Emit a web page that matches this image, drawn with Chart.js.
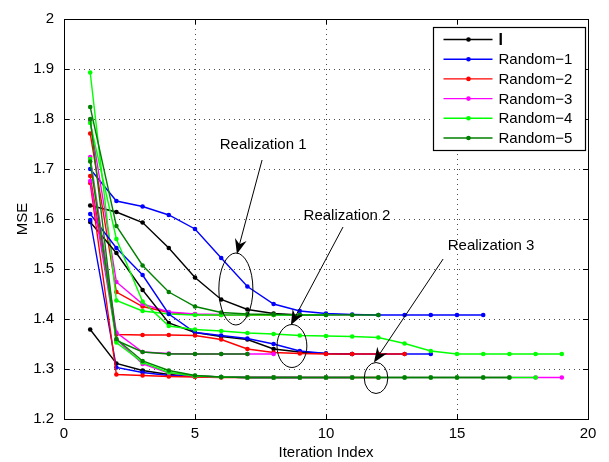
<!DOCTYPE html>
<html>
<head>
<meta charset="utf-8">
<script src="https://cdn.jsdelivr.net/npm/chart.js@4.4.0/dist/chart.umd.min.js"></script>
<style>
  html, body { margin: 0; padding: 0; background: #fff; }
  .graph { width: 609px; height: 462px; }
</style>
</head>
<body>
<div class="graph"><canvas id="myChart" width="609" height="462"></canvas></div>
<script>
// axis ticks
const xTicks = [0, 5, 10, 15, 20];
const xTickLabels = ['0', '5', '10', '15', '20'];
const yTicks = [1.2, 1.3, 1.4, 1.5, 1.6, 1.7, 1.8, 1.9, 2];
const yTickLabels = ['1.2', '1.3', '1.4', '1.5', '1.6', '1.7', '1.8', '1.9', '2'];

const seriesNames = ['I', 'Random\u22121', 'Random\u22122', 'Random\u22123', 'Random\u22124', 'Random\u22125'];
const seriesColors = ['#000000', '#0000ff', '#ff0000', '#ff00ff', '#00ff00', '#008000'];

// MSE per iteration (iteration index = position + 1)
// realization 1
const r1I  = [1.627, 1.614, 1.593, 1.542, 1.483, 1.439, 1.419, 1.411, 1.408];
const r1R1 = [1.700, 1.636, 1.625, 1.608, 1.580, 1.522, 1.465, 1.430, 1.416, 1.411, 1.409, 1.408, 1.408, 1.408, 1.408, 1.408];
const r1R2 = [1.771, 1.454, 1.425, 1.413, 1.409, 1.408, 1.408, 1.408];
const r1R3 = [1.797, 1.474, 1.430, 1.414, 1.410, 1.409, 1.408];
const r1R4 = [1.893, 1.437, 1.416, 1.410, 1.408, 1.408, 1.408, 1.408, 1.408, 1.408];
const r1R5 = [1.824, 1.586, 1.507, 1.454, 1.425, 1.413, 1.410, 1.409, 1.408, 1.408, 1.408, 1.408];
// realization 2
const r2I  = [1.594, 1.532, 1.458, 1.392, 1.373, 1.365, 1.359, 1.340, 1.334, 1.331, 1.330];
const r2R1 = [1.610, 1.542, 1.488, 1.410, 1.373, 1.367, 1.361, 1.350, 1.336, 1.331, 1.330, 1.330, 1.330, 1.330];
const r2R2 = [1.686, 1.369, 1.368, 1.368, 1.367, 1.359, 1.340, 1.333, 1.331, 1.330, 1.330, 1.330, 1.330];
const r2R3 = [1.724, 1.373, 1.334, 1.331, 1.330, 1.330, 1.330, 1.330];
const r2R4 = [1.792, 1.560, 1.435, 1.386, 1.379, 1.376, 1.372, 1.370, 1.367, 1.366, 1.365, 1.363, 1.351, 1.336, 1.330, 1.330, 1.330, 1.330, 1.330];
const r2R5 = [1.800, 1.357, 1.334, 1.330, 1.330, 1.330, 1.330];
// realization 3
const r3I  = [1.379, 1.311, 1.297, 1.289, 1.286, 1.284, 1.283, 1.283, 1.283];
const r3R1 = [1.598, 1.303, 1.293, 1.287, 1.285, 1.284, 1.283, 1.283, 1.283, 1.283, 1.283];
const r3R2 = [1.672, 1.289, 1.287, 1.285, 1.284, 1.283, 1.283, 1.283, 1.283, 1.283, 1.283, 1.283];
const r3R3 = [1.676, 1.359, 1.310, 1.292, 1.286, 1.284, 1.283, 1.283, 1.283, 1.283, 1.283, 1.283, 1.283, 1.283, 1.283, 1.283, 1.283, 1.283, 1.283];
const r3R4 = [1.720, 1.353, 1.313, 1.293, 1.286, 1.284, 1.283, 1.283, 1.283, 1.283, 1.283, 1.283, 1.283, 1.283, 1.283, 1.283, 1.283, 1.283];
const r3R5 = [1.715, 1.360, 1.316, 1.297, 1.287, 1.284, 1.283, 1.283, 1.283, 1.283, 1.283, 1.283, 1.283, 1.283, 1.283, 1.283, 1.283];

const realizations = [
  [r1I, r1R1, r1R2, r1R3, r1R4, r1R5],
  [r2I, r2R1, r2R2, r2R3, r2R4, r2R5],
  [r3I, r3R1, r3R2, r3R3, r3R4, r3R5],
];

// annotations in data units: label, arrow start/tip, ellipse centre and radii
const noteLabels = ['Realization 1', 'Realization 2', 'Realization 3'];
const noteText   = [[7.60, 1.748], [10.80, 1.606], [16.30, 1.546]];
const noteFrom   = [[7.56, 1.718], [10.65, 1.584], [14.47, 1.520]];
const noteTip    = [[6.60, 1.530], [8.66, 1.388], [11.83, 1.313]];
const noteCentre = [[6.56, 1.460], [8.70, 1.346], [11.91, 1.282]];
const noteRadii  = [[0.65, 0.072], [0.57, 0.043], [0.45, 0.031]];

const FONT = '"Liberation Sans", Arial, sans-serif';

const datasets = [];
realizations.forEach((group, r) => {
  group.forEach((vals, s) => {
    datasets.push({
      label: seriesNames[s],
      data: vals.map((v, i) => ({ x: i + 1, y: v })),
      borderColor: seriesColors[s],
      backgroundColor: seriesColors[s],
      borderWidth: 1.4,
      pointRadius: 2.3,
      pointBorderWidth: 0,
      pointHoverRadius: 0,
      tension: 0,
      fill: false,
      order: -(r * 6 + s), // later series drawn on top, like matlab
    });
  });
});

const matlabAxes = {
  id: 'matlabAxes',
  beforeDatasetsDraw(chart) {
    const { ctx, chartArea: a, scales: { x, y } } = chart;
    ctx.save();
    ctx.strokeStyle = 'rgba(0,0,0,0.7)';
    ctx.lineWidth = 1;
    ctx.setLineDash([1, 4]);
    xTicks.forEach(v => {
      const px = Math.round(x.getPixelForValue(v)) + 0.5;
      if (px <= a.left + 1 || px >= a.right - 1) return;
      ctx.beginPath(); ctx.moveTo(px, a.top); ctx.lineTo(px, a.bottom); ctx.stroke();
    });
    yTicks.forEach(v => {
      const py = Math.round(y.getPixelForValue(v)) + 0.5;
      if (py <= a.top + 1 || py >= a.bottom - 1) return;
      ctx.beginPath(); ctx.moveTo(a.left, py); ctx.lineTo(a.right, py); ctx.stroke();
    });
    ctx.restore();
  },
  afterDraw(chart) {
    const { ctx, chartArea: a, scales: { x, y } } = chart;
    ctx.save();
    ctx.strokeStyle = '#000';
    ctx.lineWidth = 1;
    ctx.setLineDash([]);
    // inward tick marks
    const tl = 5;
    xTicks.forEach(v => {
      const px = Math.round(x.getPixelForValue(v)) + 0.5;
      ctx.beginPath();
      ctx.moveTo(px, a.bottom); ctx.lineTo(px, a.bottom - tl);
      ctx.moveTo(px, a.top); ctx.lineTo(px, a.top + tl);
      ctx.stroke();
    });
    yTicks.forEach(v => {
      const py = Math.round(y.getPixelForValue(v)) + 0.5;
      ctx.beginPath();
      ctx.moveTo(a.left, py); ctx.lineTo(a.left + tl, py);
      ctx.moveTo(a.right, py); ctx.lineTo(a.right - tl, py);
      ctx.stroke();
    });
    // box
    ctx.strokeRect(Math.round(a.left) + 0.5, Math.round(a.top) + 0.5,
      Math.round(a.right - a.left), Math.round(a.bottom - a.top));

    // annotations
    ctx.fillStyle = '#000';
    ctx.font = '15px ' + FONT;
    ctx.textAlign = 'center';
    ctx.textBaseline = 'middle';
    noteLabels.forEach((txt, k) => {
      const tx = x.getPixelForValue(noteText[k][0]);
      const ty = y.getPixelForValue(noteText[k][1]);
      ctx.fillText(txt, tx, ty);

      const cx = x.getPixelForValue(noteCentre[k][0]);
      const cy = y.getPixelForValue(noteCentre[k][1]);
      const rx = Math.abs(x.getPixelForValue(noteCentre[k][0] + noteRadii[k][0]) - cx);
      const ry = Math.abs(y.getPixelForValue(noteCentre[k][1] + noteRadii[k][1]) - cy);
      ctx.lineWidth = 1;
      ctx.beginPath();
      ctx.ellipse(cx, cy, rx, ry, 0, 0, Math.PI * 2);
      ctx.stroke();

      const x0 = x.getPixelForValue(noteFrom[k][0]);
      const y0 = y.getPixelForValue(noteFrom[k][1]);
      const x1 = x.getPixelForValue(noteTip[k][0]);
      const y1 = y.getPixelForValue(noteTip[k][1]);
      const ang = Math.atan2(y1 - y0, x1 - x0);
      const hl = 15, hw = 6, notch = 5;
      ctx.beginPath();
      ctx.moveTo(x0, y0);
      ctx.lineTo(x1 - Math.cos(ang) * notch, y1 - Math.sin(ang) * notch);
      ctx.stroke();
      const ca = Math.cos(ang), sa = Math.sin(ang);
      ctx.beginPath();
      ctx.moveTo(x1, y1);
      ctx.lineTo(x1 - ca * hl - sa * hw, y1 - sa * hl + ca * hw);
      ctx.lineTo(x1 - ca * (hl - notch), y1 - sa * (hl - notch));
      ctx.lineTo(x1 - ca * hl + sa * hw, y1 - sa * hl - ca * hw);
      ctx.closePath();
      ctx.fill();
    });

    // legend box
    const bw = 152, bh = 123;
    const bx = Math.round(a.right - bw - 3) + 0.5;
    const by = Math.round(a.top + 8) + 0.5;
    ctx.fillStyle = '#fff';
    ctx.fillRect(bx, by, bw, bh);
    ctx.lineWidth = 1.2;
    ctx.strokeStyle = '#000';
    ctx.strokeRect(bx, by, bw, bh);
    ctx.textAlign = 'left';
    ctx.textBaseline = 'middle';
    seriesNames.forEach((name, i) => {
      const ly = by + 12 + i * 19.7;
      ctx.strokeStyle = seriesColors[i];
      ctx.lineWidth = 1.4;
      ctx.beginPath();
      ctx.moveTo(bx + 10, ly); ctx.lineTo(bx + 59, ly);
      ctx.stroke();
      ctx.fillStyle = seriesColors[i];
      ctx.beginPath();
      ctx.arc(bx + 35, ly, 2.3, 0, Math.PI * 2);
      ctx.fill();
      ctx.fillStyle = '#000';
      ctx.font = (i === 0 ? 'bold 16px ' : '15px ') + FONT;
      ctx.fillText(name, bx + 65, ly + 1);
    });
    ctx.restore();
  }
};

const ctx = document.getElementById('myChart').getContext('2d');
const myChart = new Chart(ctx, {
  type: 'line',
  data: { datasets },
  options: {
    responsive: false,
    animation: false,
    layout: { padding: { left: 0, top: 7, right: 21, bottom: 0 } },
    plugins: { legend: { display: false }, tooltip: { enabled: false } },
    scales: {
      x: {
        type: 'linear',
        min: 0, max: 20,
        afterFit: s => { s.height = 43; },
        afterBuildTicks: s => { s.ticks = xTicks.map(v => ({ value: v })); },
        grid: { display: false, drawTicks: false },
        border: { display: false },
        ticks: {
          color: '#000', padding: 6, maxRotation: 0,
          font: { family: FONT, size: 15 },
          callback: (v, i) => xTickLabels[i],
        },
        title: {
          display: true, text: 'Iteration Index', color: '#000',
          font: { family: FONT, size: 15 }, padding: { top: 0, bottom: 0 },
        },
      },
      y: {
        type: 'linear',
        min: 1.2, max: 2,
        afterFit: s => { s.width = 64; },
        afterBuildTicks: s => { s.ticks = yTicks.map(v => ({ value: v })); },
        grid: { display: false, drawTicks: false },
        border: { display: false },
        ticks: {
          color: '#000', padding: 10,
          font: { family: FONT, size: 15 },
          callback: (v, i) => yTickLabels[i],
        },
        title: {
          display: true, text: 'MSE', color: '#000',
          font: { family: FONT, size: 15 }, padding: { top: 14, bottom: 0 },
        },
      },
    },
  },
  plugins: [matlabAxes],
});
</script>
</body>
</html>
